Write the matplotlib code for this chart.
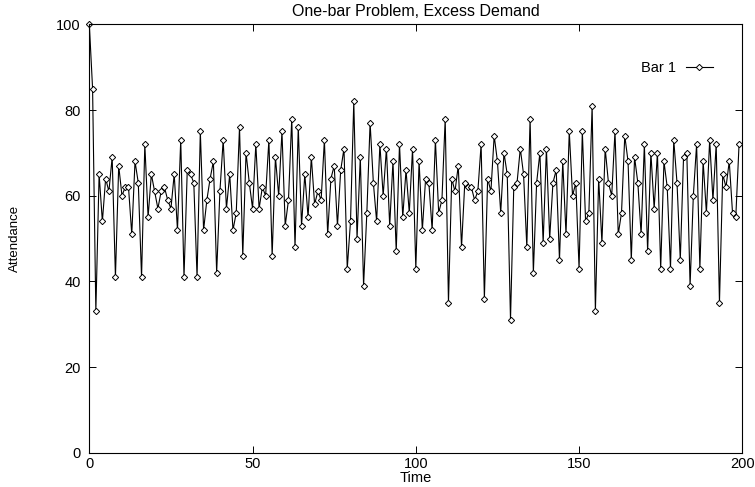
import numpy as np
import matplotlib
matplotlib.use('Agg')
import matplotlib.pyplot as plt

plt.rcParams['font.family'] = ['Liberation Sans', 'DejaVu Sans']

# attendance, one value per time step (0..199)
attendance = [
    100, 85, 33, 65, 54, 64, 61, 69, 41, 67,
    60, 62, 62, 51, 68, 63, 41, 72, 55, 65,
    61, 57, 61, 62, 59, 57, 65, 52, 73, 41,
    66, 65, 63, 41, 75, 52, 59, 64, 68, 42,
    61, 73, 57, 65, 52, 56, 76, 46, 70, 63,
    57, 72, 57, 62, 60, 73, 46, 69, 60, 75,
    53, 59, 78, 48, 76, 53, 65, 55, 69, 58,
    61, 59, 73, 51, 64, 67, 53, 66, 71, 43,
    54, 82, 50, 69, 39, 56, 77, 63, 54, 72,
    60, 71, 53, 68, 47, 72, 55, 66, 56, 71,
    43, 68, 52, 64, 63, 52, 73, 56, 59, 78,
    35, 64, 61, 67, 48, 63, 62, 62, 59, 61,
    72, 36, 64, 61, 74, 68, 56, 70, 65, 31,
    62, 63, 71, 65, 48, 78, 42, 63, 70, 49,
    71, 50, 63, 66, 45, 68, 51, 75, 60, 63,
    43, 75, 54, 56, 81, 33, 64, 49, 71, 63,
    60, 75, 51, 56, 74, 68, 45, 69, 63, 51,
    72, 47, 70, 57, 70, 43, 68, 62, 43, 73,
    63, 45, 69, 70, 39, 60, 72, 43, 68, 56,
    73, 59, 72, 35, 65, 62, 68, 56, 55, 72,
]
time = np.arange(len(attendance))

x_ticks = [0, 50, 100, 150, 200]
y_ticks = [0, 20, 40, 60, 80, 100]

fs = 10.5

fig = plt.figure(figsize=(7.55, 4.87), dpi=100)
ax = fig.add_axes([0.1183, 0.0702, 0.8649, 0.8799])

ax.plot(time, attendance, color='black', linewidth=0.8,
        marker='D', markersize=3.2, markerfacecolor='white',
        markeredgecolor='black', markeredgewidth=0.7, label='Bar 1',
        clip_on=False)

ax.set_xlim(0, 200)
ax.set_ylim(0, 100)
ax.set_xticks(x_ticks)
ax.set_yticks(y_ticks)
ax.tick_params(direction='in', length=4.8, width=0.7, labelsize=fs,
               top=True, right=True)
ax.tick_params(axis='y', pad=6)
ax.tick_params(axis='x', pad=3)
for s in ax.spines.values():
    s.set_linewidth(0.8)

ax.legend(loc='center right', bbox_to_anchor=(0.955, 0.897), frameon=False,
          markerfirst=False, fontsize=fs, handlelength=1.85, handletextpad=0.68,
          borderpad=0, borderaxespad=0)

fig.text(0.551, 1 - 11 / 487, 'One-bar Problem, Excess Demand',
         ha='center', va='center', fontsize=11.5)
fig.text(0.551, 1 - 478 / 487, 'Time', ha='center', va='center', fontsize=fs)
fig.text(15 / 755, 1 - 238 / 487, 'Attendance', ha='center', va='center',
         rotation=90, fontsize=9.5)

fig.savefig('out.png', dpi=100)
